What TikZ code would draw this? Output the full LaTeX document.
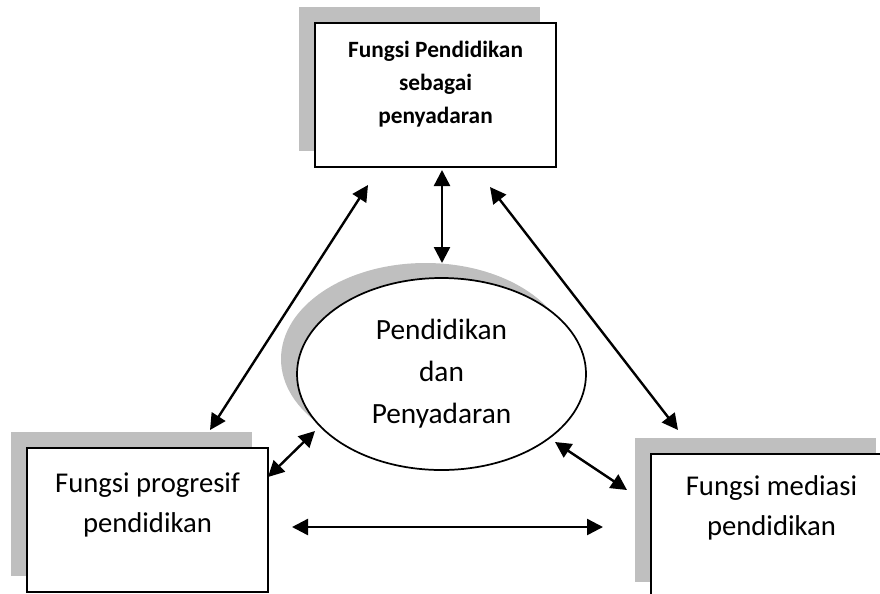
\documentclass[tikz,border=0pt]{standalone}
\usepackage{fontspec}
\setmainfont{Carlito}
\usetikzlibrary{shapes.geometric,shadows,arrows.meta}

\begin{document}
\begin{tikzpicture}[x=0.75pt,y=-0.75pt,
    bayang/.style={drop shadow={shadow xshift=-12pt,shadow yshift=12pt,fill=gray!50,opacity=1}},
    kotak/.style={draw=black,line width=1.3pt,fill=white,minimum width=180.75pt,
      minimum height=108pt,inner sep=0pt,bayang},
    teks/.style={align=center,font=\fontsize{21.5}{30}\selectfont},
    panah/.style={{Triangle[length=12pt,width=12pt]}-{Triangle[length=12pt,width=12pt]},
      line width=1.8pt}]
    \useasboundingbox (0,0) rectangle (880,593);

    \node[kotak] (fungsi) at (435.5,95) {};
    \node[align=center,font=\fontsize{17.5}{25}\selectfont\bfseries] (fungsiteks)
      at (435.5,84) {Fungsi Pendidikan\\sebagai\\penyadaran};

    \node[kotak] (progresif) at (147.5,520) {};
    \node[teks] (progresifteks) at (147.5,505) {Fungsi progresif\\pendidikan};

    \node[kotak] (mediasi) at (771.5,526) {};
    \node[teks] (mediasiteks) at (771.5,508) {Fungsi mediasi\\pendidikan};

    \node[ellipse,draw=black,line width=1.3pt,fill=white,inner sep=0pt,
      minimum width=216.75pt,minimum height=144pt,align=center,
      font=\fontsize{22}{31.5}\selectfont,
      drop shadow={shadow xshift=-12pt,shadow yshift=11.25pt,fill=gray!50,opacity=1}]
      (pusat) at (441.5,374) {Pendidikan\\dan\\Penyadaran};

    \coordinate (atas1) at (442,170);  \coordinate (atas2) at (442,263);
    \coordinate (kiri1) at (210,430);  \coordinate (kiri2) at (368,185);
    \coordinate (kanan1) at (490,187); \coordinate (kanan2) at (678,430);
    \coordinate (pk1) at (268,477);    \coordinate (pk2) at (315,431);
    \coordinate (pm1) at (555,442);    \coordinate (pm2) at (627,490);
    \coordinate (bawah1) at (292,527); \coordinate (bawah2) at (603,527);

    \draw[panah] (atas1) -- (atas2);
    \draw[panah] (kiri1) -- (kiri2);
    \draw[panah] (kanan1) -- (kanan2);
    \draw[panah] (pk1) -- (pk2);
    \draw[panah] (pm1) -- (pm2);
    \draw[panah] (bawah1) -- (bawah2);
  \end{tikzpicture}
\end{document}
